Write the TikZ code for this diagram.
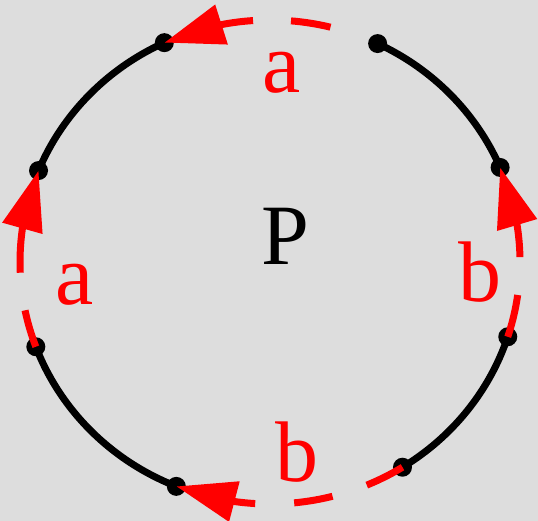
\documentclass[tikz,border=0pt]{standalone}
\usepackage{fontspec}
\setmainfont{Liberation Serif}
\usetikzlibrary{arrows.meta,bending}
\definecolor{bg}{HTML}{DDDDDD}
\begin{document}
\begin{tikzpicture}[x=1pt,y=1pt,
  curve/.style={line width=7pt,black},
  redarc/.style={line width=7pt,red,-{Triangle[length=60pt,width=40pt,flex]}},
  dot/.style={circle,fill=black,inner sep=0pt,minimum size=19pt},
  lbl/.style={anchor=base,font=\fontsize{86}{86}\selectfont}]
\fill[bg] (0,0) rectangle (538,521);
\useasboundingbox (0,0) rectangle (538,521);
\coordinate (c) at (270,259);
\path (c) ++(64.5:250pt and 242pt) coordinate (tr);
\path (c) ++(115:250pt and 242pt) coordinate (tl);
\path (c) ++(157.8:250pt and 242pt) coordinate (lu);
\path (c) ++(200.5:250pt and 242pt) coordinate (ll);
\path (c) ++(248:250pt and 242pt) coordinate (bl);
\path (c) ++(302:250pt and 242pt) coordinate (br);
\path (c) ++(342:250pt and 242pt) coordinate (rl);
\path (c) ++(23:250pt and 242pt) coordinate (ru);
% black arcs
\draw[curve] (ru) arc[start angle=23,end angle=64.5,x radius=250pt,y radius=242pt];
\draw[curve] (tl) arc[start angle=115,end angle=157.8,x radius=250pt,y radius=242pt];
\draw[curve] (ll) arc[start angle=200.5,end angle=248,x radius=250pt,y radius=242pt];
\draw[curve] (br) arc[start angle=302,end angle=342,x radius=250pt,y radius=242pt];
% dots
\node[dot] (dtr) at (tr) {};
\node[dot] (dtl) at (tl) {};
\node[dot] (dlu) at (lu) {};
\node[dot] (dll) at (ll) {};
\node[dot] (dbl) at (bl) {};
\node[dot] (dbr) at (br) {};
\node[dot] (drl) at (rl) {};
\node[dot] (dru) at (ru) {};
% red dashed arcs
\draw[redarc,dash pattern=on 0pt off 50pt on 40pt off 38pt on 200pt off 1pt]
  (tr) arc[start angle=64.5,end angle=115,x radius=250pt,y radius=242pt];
\draw[redarc,dash pattern=on 38pt off 38pt on 200pt off 1pt]
  (ll) arc[start angle=200.5,end angle=157.8,x radius=250pt,y radius=242pt];
\draw[redarc,dash pattern=on 43pt off 38pt on 200pt off 1pt]
  (rl) arc[start angle=-18,end angle=23,x radius=250pt,y radius=242pt];
\draw[redarc,dash pattern=on 40pt off 36pt on 39pt off 39pt on 200pt off 1pt]
  (br) arc[start angle=302,end angle=248,x radius=250pt,y radius=242pt];
% labels
\node[lbl,red] (la1) at (282,428) {a};
\node[lbl,red] (la2) at (75,216) {a};
\node[lbl,red] (lb1) at (480,219) {b};
\node[lbl,red] (lb2) at (297,39) {b};
\node[lbl] (lp) at (285,256) {P};
\end{tikzpicture}
\end{document}
